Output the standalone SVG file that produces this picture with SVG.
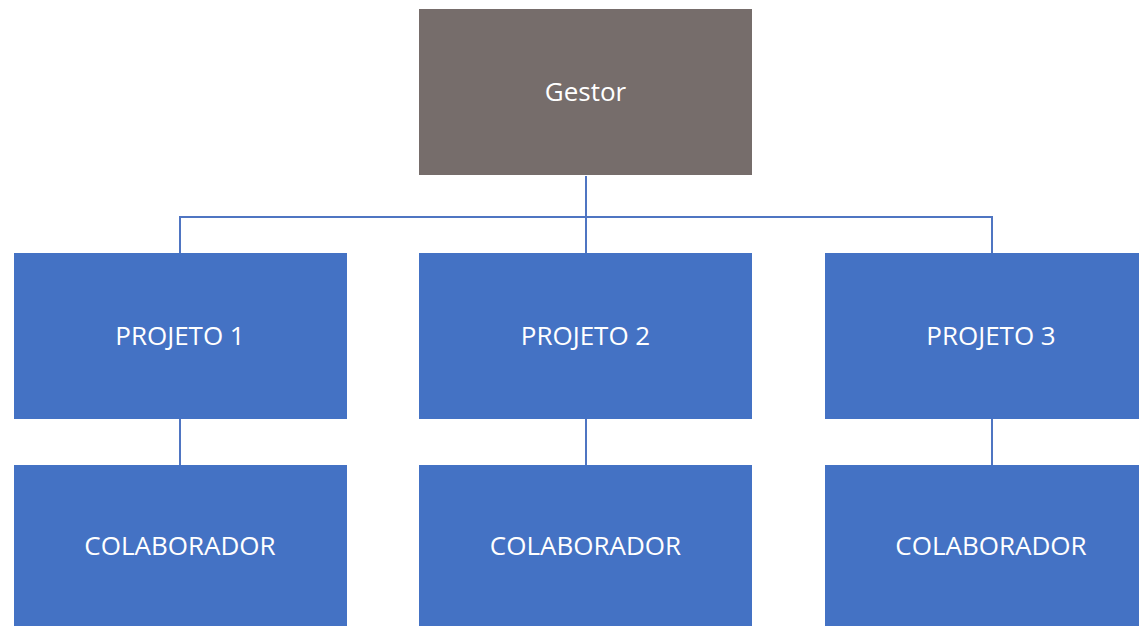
<svg xmlns="http://www.w3.org/2000/svg" width="1139" height="626" viewBox="0 0 1139 626">
<style>
.box{fill:#4472C4}
.top{fill:#766D6B}
.lbl{fill:#FFFFFF;font-family:"Open Sans","Noto Sans",sans-serif;font-size:26px;text-anchor:middle}
.conn{stroke:#4F75C2;stroke-width:2;fill:none}
</style>
<rect width="1139" height="626" fill="#FFFFFF"/>
<g id="connectors">
<path class="conn" d="M586 176V253"/>
<path class="conn" d="M180 253V217H992V253"/>
<path class="conn" d="M180 419V465"/>
<path class="conn" d="M586 419V465"/>
<path class="conn" d="M992 419V465"/>
</g>
<g id="gestor"><rect class="top" x="419" y="9" width="333" height="166"/><text class="lbl" x="585.5" y="101">Gestor</text></g>
<g id="projeto1"><rect class="box" x="14" y="253" width="333" height="166"/><text class="lbl" x="180" y="345">PROJETO 1</text></g>
<g id="projeto2"><rect class="box" x="419" y="253" width="333" height="166"/><text class="lbl" x="585.5" y="345">PROJETO 2</text></g>
<g id="projeto3"><rect class="box" x="825" y="253" width="333" height="166"/><text class="lbl" x="991" y="345">PROJETO 3</text></g>
<g id="colab1"><rect class="box" x="14" y="465" width="333" height="170"/><text class="lbl" x="180" y="555">COLABORADOR</text></g>
<g id="colab2"><rect class="box" x="419" y="465" width="333" height="170"/><text class="lbl" x="585.5" y="555">COLABORADOR</text></g>
<g id="colab3"><rect class="box" x="825" y="465" width="333" height="170"/><text class="lbl" x="991" y="555">COLABORADOR</text></g>
</svg>
